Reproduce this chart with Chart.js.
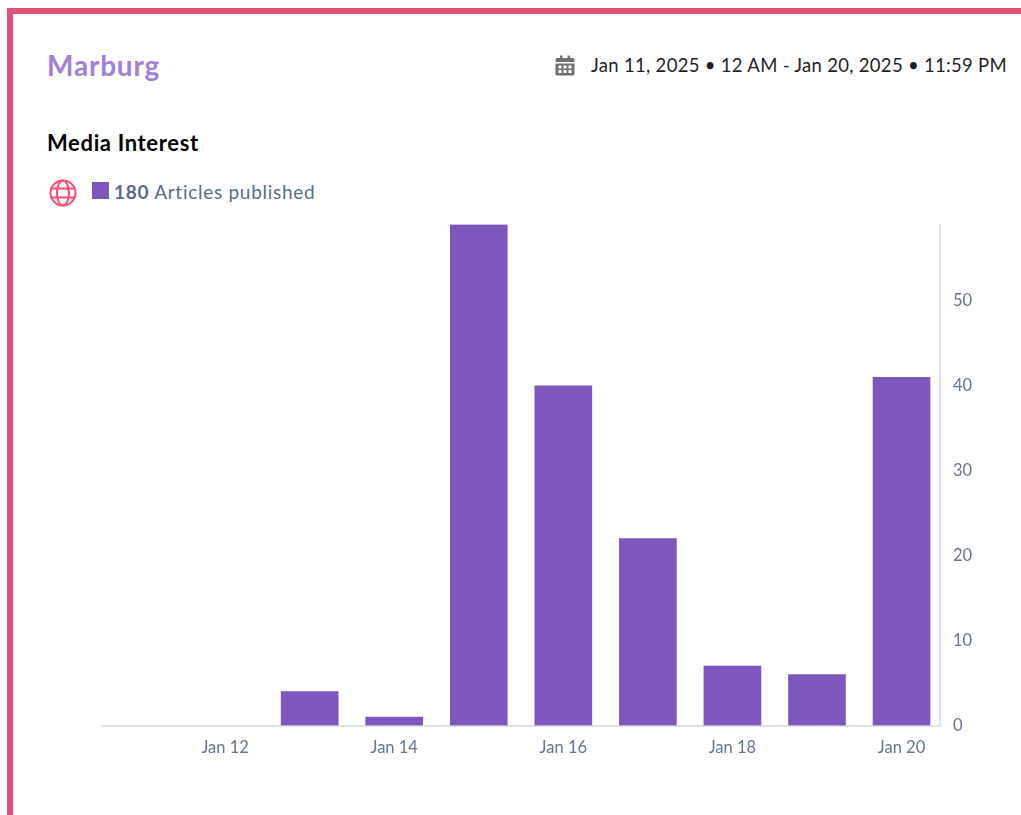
<!DOCTYPE html>
<html>
<head>
<meta charset="utf-8">
<title>Marburg - Media Interest</title>
<script src="https://cdn.jsdelivr.net/npm/chart.js@4"></script>
<style>
  html, body { margin: 0; padding: 0; background: #fff; overflow: hidden; }
  body { width: 1021px; height: 815px; position: relative; font-family: Lato, "Open Sans", sans-serif; }
  .edge-top { position: absolute; left: 7px; top: 8px; right: 0; height: 6px; background: #e05277; }
  .edge-left { position: absolute; left: 7px; top: 8px; bottom: 0; width: 6px; background: #e05277; }
  .text { position: absolute; white-space: nowrap; }
  #place { left: 47px; top: 48px; font-size: 28px; line-height: 34px; font-weight: 700; color: #a180d6; letter-spacing: .8px; }
  #range { right: 14px; top: 53px; font-size: 18.5px; line-height: 24px; color: #1f1f1f; letter-spacing: .3px; }
  #heading { left: 47px; top: 130px; font-size: 22px; line-height: 26px; font-weight: 700; color: #000; letter-spacing: .65px; }
  #count { left: 114px; top: 180px; font-size: 19px; line-height: 24px; color: #5b6a8c; letter-spacing: .72px; }
  #count b { font-weight: 700; }
  .swatch { position: absolute; left: 92px; top: 182px; width: 17px; height: 17px; background: #7e57bd; }
  svg { position: absolute; }
  canvas { position: absolute; left: 0; top: 0; }
</style>
</head>
<body>
<div class="edge-top"></div>
<div class="edge-left"></div>
<div class="text" id="place">Marburg</div>
<svg style="left:555px;top:54px" width="20" height="22" viewBox="0 0 20 22">
  <path fill="#707070" d="M2 4h3V1.500h2.500V4h5V1.500H15V4h3q1.500 0 1.500 1.500V8H.5V5.500Q.5 4 2 4zM.5 9.500h19V20q0 1.500-1.500 1.500H2Q.5 21.500.5 20z"/>
  <g fill="#fff">
    <rect x="3.500" y="11.500" width="3" height="3"/><rect x="8.500" y="11.500" width="3" height="3"/><rect x="13.500" y="11.500" width="3" height="3"/>
    <rect x="3.500" y="16" width="3" height="3"/><rect x="8.500" y="16" width="3" height="3"/><rect x="13.500" y="16" width="3" height="3"/>
  </g>
</svg>
<div class="text" id="range">Jan 11, 2025 • 12 AM - Jan 20, 2025 • 11:59 PM</div>
<div class="text" id="heading">Media Interest</div>
<svg style="left:49px;top:179px" width="28" height="28" viewBox="0 0 28 28" fill="none" stroke="#fb4a72" stroke-width="2">
  <circle cx="14" cy="14" r="12.500"/>
  <ellipse cx="14" cy="14" rx="6" ry="12.500"/>
  <path d="M2.500 9.500h23M2.500 18.500h23"/>
</svg>
<div class="swatch"></div>
<div class="text" id="count"><b>180</b> Articles published</div>
<canvas id="chart" width="1021" height="815"></canvas>
<script>
// Articles published per day in January 2025, keyed by day of month
const days = [11, 12, 13, 14, 15, 16, 17, 18, 19, 20];
const articles = [0, 0, 4, 1, 59, 40, 22, 7, 6, 41];
const dayTicks = [12, 14, 16, 18, 20];
const countTicks = [0, 10, 20, 30, 40, 50];
const monthLabel = 'Jan';

const axisLine = '#e2e2e4';
const tickColor = '#66748f';
const tickFont = { family: 'Lato, "Open Sans", sans-serif', size: 16.5 };

new Chart(document.getElementById('chart'), {
  type: 'bar',
  data: {
    datasets: [{
      data: days.map((d, i) => ({ x: d, y: articles[i] })),
      // Days with no articles leave no sliver on the baseline
      backgroundColor: ctx => (ctx.raw && ctx.raw.y > 0 ? '#7e57bd' : 'transparent'),
      borderWidth: 0,
      barThickness: 57
    }]
  },
  options: {
    responsive: false,
    animation: false,
    layout: { padding: { left: 102, top: 224.5, right: 0, bottom: 0 } },
    plugins: { legend: { display: false }, tooltip: { enabled: false } },
    scales: {
      x: {
        type: 'linear',
        offset: false,
        min: 10.544,
        max: 20.455,
        grid: { display: false, drawTicks: false },
        border: { color: axisLine, width: 2 },
        afterBuildTicks: s => { s.ticks = dayTicks.map(value => ({ value })); },
        afterFit: s => { s.height = 89.5; },
        ticks: {
          color: tickColor,
          font: tickFont,
          padding: 12,
          maxRotation: 0,
          autoSkip: false,
          callback: v => monthLabel + ' ' + v
        }
      },
      y: {
        position: 'right',
        min: 0,
        max: 59,
        grid: { display: false, drawTicks: false },
        border: { color: axisLine, width: 2 },
        afterBuildTicks: s => { s.ticks = countTicks.map(value => ({ value })); },
        afterFit: s => { s.width = 81; },
        ticks: {
          color: tickColor,
          font: tickFont,
          padding: 13,
          align: 'center',
          crossAlign: 'near'
        }
      }
    }
  }
});
</script>
</body>
</html>
